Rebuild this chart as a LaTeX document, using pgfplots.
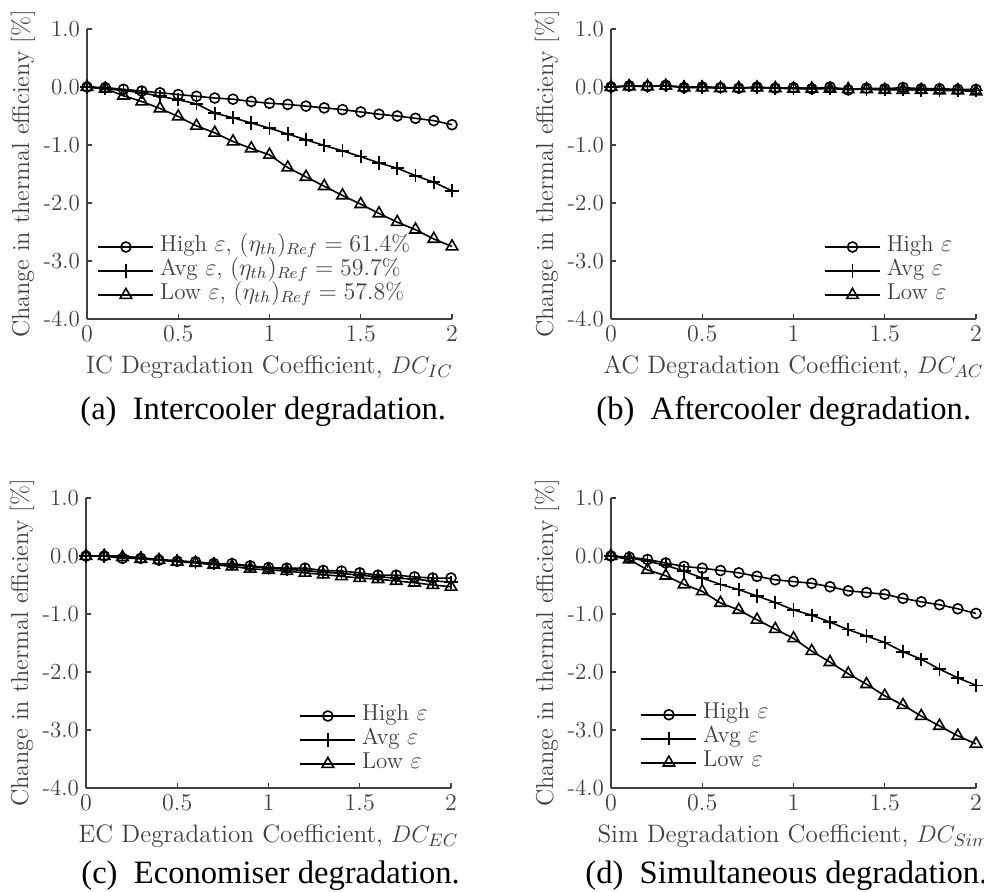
\documentclass[border=0pt]{standalone}
\usepackage{fontspec}
\usepackage{pgfplots}
\pgfplotsset{compat=1.18}
\newfontfamily\capfont{Liberation Serif}
\definecolor{axgray}{HTML}{404040}

% x: degradation coefficient; h/a/l: high, avg, low effectiveness
\pgfplotstableread{
x h a l
0.0 0.00 0.00 0.00
0.1 -0.01 -0.03 -0.03
0.2 -0.04 -0.06 -0.15
0.3 -0.07 -0.10 -0.25
0.4 -0.10 -0.16 -0.37
0.5 -0.13 -0.22 -0.51
0.6 -0.16 -0.29 -0.67
0.7 -0.19 -0.45 -0.79
0.8 -0.21 -0.53 -0.94
0.9 -0.25 -0.62 -1.06
1.0 -0.28 -0.71 -1.17
1.1 -0.30 -0.81 -1.39
1.2 -0.33 -0.91 -1.55
1.3 -0.36 -1.01 -1.71
1.4 -0.39 -1.10 -1.87
1.5 -0.43 -1.20 -2.02
1.6 -0.47 -1.31 -2.18
1.7 -0.50 -1.40 -2.33
1.8 -0.54 -1.53 -2.46
1.9 -0.58 -1.64 -2.62
2.0 -0.65 -1.79 -2.75
}\dataIC

\pgfplotstableread{
x h a l
0.0 0.00 0.00 0.00
0.1 0.02 0.02 0.01
0.2 0.01 0.01 0.01
0.3 0.03 0.02 0.02
0.4 -0.01 0.00 -0.01
0.5 0.00 0.00 -0.01
0.6 -0.01 -0.01 -0.02
0.7 -0.02 -0.01 -0.02
0.8 0.00 -0.01 -0.01
0.9 -0.02 -0.02 -0.02
1.0 -0.01 -0.02 -0.03
1.1 -0.03 -0.02 -0.03
1.2 0.00 -0.02 -0.03
1.3 -0.05 -0.03 -0.04
1.4 -0.02 -0.04 -0.04
1.5 -0.03 -0.04 -0.05
1.6 -0.01 -0.04 -0.05
1.7 -0.03 -0.05 -0.05
1.8 -0.03 -0.05 -0.06
1.9 -0.04 -0.05 -0.06
2.0 -0.04 -0.06 -0.08
}\dataAC

\pgfplotstableread{
x h a l
0.0 0.00 0.00 0.00
0.1 0.00 0.00 0.00
0.2 -0.04 0.00 -0.02
0.3 -0.04 -0.03 -0.05
0.4 -0.07 -0.06 -0.07
0.5 -0.09 -0.08 -0.10
0.6 -0.10 -0.11 -0.12
0.7 -0.13 -0.13 -0.15
0.8 -0.13 -0.15 -0.18
0.9 -0.17 -0.18 -0.22
1.0 -0.20 -0.21 -0.24
1.1 -0.21 -0.23 -0.26
1.2 -0.21 -0.25 -0.29
1.3 -0.25 -0.28 -0.32
1.4 -0.26 -0.30 -0.35
1.5 -0.29 -0.33 -0.38
1.6 -0.33 -0.36 -0.40
1.7 -0.33 -0.38 -0.43
1.8 -0.36 -0.40 -0.46
1.9 -0.38 -0.43 -0.50
2.0 -0.38 -0.45 -0.53
}\dataEC

\pgfplotstableread{
x h a l
0.0 0.00 0.00 0.00
0.1 -0.02 -0.03 -0.06
0.2 -0.06 -0.09 -0.24
0.3 -0.12 -0.16 -0.34
0.4 -0.18 -0.26 -0.49
0.5 -0.21 -0.38 -0.61
0.6 -0.25 -0.49 -0.81
0.7 -0.29 -0.58 -0.93
0.8 -0.35 -0.69 -1.10
0.9 -0.41 -0.80 -1.26
1.0 -0.44 -0.93 -1.42
1.1 -0.47 -1.02 -1.64
1.2 -0.53 -1.14 -1.83
1.3 -0.60 -1.27 -2.03
1.4 -0.63 -1.38 -2.21
1.5 -0.66 -1.49 -2.41
1.6 -0.73 -1.65 -2.57
1.7 -0.79 -1.78 -2.76
1.8 -0.84 -1.95 -2.93
1.9 -0.91 -2.10 -3.10
2.0 -0.99 -2.23 -3.24
}\dataSim

\pgfplotsset{
  deg/.style={
    scale only axis, width=182.5pt, height=145pt,
    anchor=south west, clip=false,
    xmin=0, xmax=2, ymin=-4, ymax=1,
    xtick={0,0.5,1,1.5,2},
    ytick={-4,-3,-2,-1,0,1},
    yticklabels={-4.0,-3.0,-2.0,-1.0,0.0,1.0},
    axis lines*=left,
    axis line style={axgray, line width=0.6pt},
    tick align=inside, major tick length=2.5pt,
    tick style={axgray, line width=0.6pt},
    tick label style={font=\fontsize{11.5}{13}\selectfont, text=axgray},
    xlabel style={font=\fontsize{12.6}{15}\selectfont, text=axgray,
      at={(axis description cs:0.5,-0.1655)}, anchor=center},
    ylabel style={font=\fontsize{12.2}{15}\selectfont, text=axgray,
      at={(axis description cs:-0.1753,0.5)}, anchor=center},
    ylabel={Change in thermal efficieny [\%]},
    legend style={draw=none, fill=none, inner sep=0pt, anchor=west,
      font=\fontsize{11.5}{13}\selectfont, text=axgray,
      nodes={inner ysep=0pt, inner xsep=3pt, text height=8pt, text depth=4pt},
      row sep=0pt},
    legend cell align=left,
    legend image code/.code={
      \draw[mark repeat=2, mark phase=2]
        plot coordinates {(0pt,0pt) (13.75pt,0pt) (27.5pt,0pt)};},
    every axis plot/.append style={black, line width=0.8pt},
  },
  hi/.style={mark=o, mark size=2.5pt},
  av/.style={mark=+, mark size=3.3pt},
  lo/.style={mark=triangle, mark size=3.3pt},
}

\begin{document}
\begin{tikzpicture}
\path[use as bounding box] (0,0) rectangle (492pt,445.5pt);

% (a) intercooler
\begin{axis}[deg, at={(43.5pt,286pt)},
  xlabel={IC Degradation Coefficient, $DC_{IC}$},
  legend style={at={(axis description cs:0.028,0.1655)}}]
  \addplot[hi] table[x=x, y=h] {\dataIC};
  \addlegendentry{High $\varepsilon$, $(\eta_{th})_{Ref}=61.4\%$}
  \addplot[av] table[x=x, y=a] {\dataIC};
  \addlegendentry{Avg $\varepsilon$, $(\eta_{th})_{Ref}=59.7\%$}
  \addplot[lo] table[x=x, y=l] {\dataIC};
  \addlegendentry{Low $\varepsilon$, $(\eta_{th})_{Ref}=57.8\%$}
\end{axis}

% (b) aftercooler
\begin{axis}[deg, at={(305.5pt,286pt)},
  xlabel={AC Degradation Coefficient, $DC_{AC}$},
  legend style={at={(axis description cs:0.583,0.1655)}}]
  \addplot[hi] table[x=x, y=h] {\dataAC};
  \addlegendentry{High $\varepsilon$}
  \addplot[av] table[x=x, y=a] {\dataAC};
  \addlegendentry{Avg $\varepsilon$}
  \addplot[lo] table[x=x, y=l] {\dataAC};
  \addlegendentry{Low $\varepsilon$}
\end{axis}

% (c) economiser
\begin{axis}[deg, at={(43pt,51.5pt)},
  xlabel={EC Degradation Coefficient, $DC_{EC}$},
  legend style={at={(axis description cs:0.584,0.1655)}}]
  \addplot[hi] table[x=x, y=h] {\dataEC};
  \addlegendentry{High $\varepsilon$}
  \addplot[av] table[x=x, y=a] {\dataEC};
  \addlegendentry{Avg $\varepsilon$}
  \addplot[lo] table[x=x, y=l] {\dataEC};
  \addlegendentry{Low $\varepsilon$}
\end{axis}

% (d) simultaneous
\begin{axis}[deg, at={(305.5pt,51.5pt)},
  xlabel={Sim Degradation Coefficient, $DC_{Sim}$},
  legend style={at={(axis description cs:0.080,0.170)}}]
  \addplot[hi] table[x=x, y=h] {\dataSim};
  \addlegendentry{High $\varepsilon$}
  \addplot[av] table[x=x, y=a] {\dataSim};
  \addlegendentry{Avg $\varepsilon$}
  \addplot[lo] table[x=x, y=l] {\dataSim};
  \addlegendentry{Low $\varepsilon$}
\end{axis}

% sub-captions
\begin{scope}[every node/.style={anchor=base west, inner sep=0pt, font=\capfont\fontsize{16.3}{19}\selectfont}]
  \node at (40pt,236pt) {(a)\enspace Intercooler degradation.};
  \node at (298pt,236pt) {(b)\enspace Aftercooler degradation.};
  \node at (40.5pt,4pt) {(c)\enspace Economiser degradation.};
  \node at (292.5pt,4pt) {(d)\enspace Simultaneous degradation.};
\end{scope}
\end{tikzpicture}
\end{document}
